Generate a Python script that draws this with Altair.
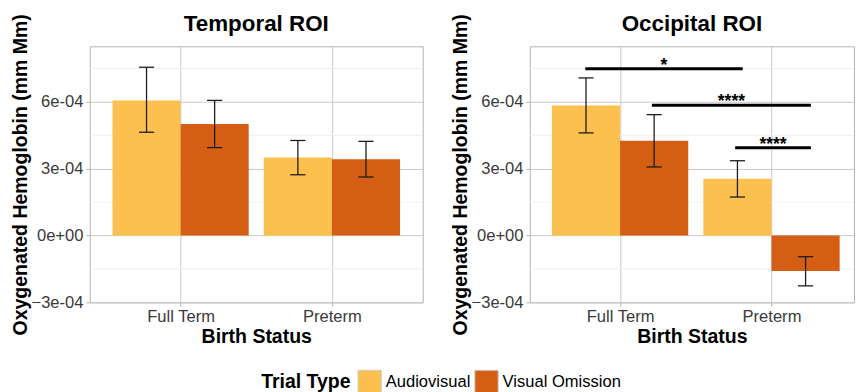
import json
import altair as alt
import pandas as pd

# ---------------- data ----------------
categories = ["Full Term", "Preterm"]
trial_types = ["Audiovisual", "Visual Omission"]
bar_status = ["Full Term", "Full Term", "Preterm", "Preterm"]
bar_type = ["Audiovisual", "Visual Omission", "Audiovisual", "Visual Omission"]

temporal_mean = [6.07e-4, 5.01e-4, 3.50e-4, 3.43e-4]
temporal_low = [4.64e-4, 3.95e-4, 2.73e-4, 2.63e-4]
temporal_high = [7.56e-4, 6.07e-4, 4.27e-4, 4.23e-4]

occipital_mean = [5.84e-4, 4.26e-4, 2.55e-4, -1.59e-4]
occipital_low = [4.61e-4, 3.08e-4, 1.73e-4, -2.26e-4]
occipital_high = [7.08e-4, 5.43e-4, 3.36e-4, -0.95e-4]

sig_xmin = [0.77, 1.21, 1.76]
sig_xmax = [1.81, 2.26, 2.26]
sig_y = [7.49e-4, 5.85e-4, 3.94e-4]
sig_label = ["*", "****", "****"]

y_major = [-3e-4, 0.0, 3e-4, 6e-4]
y_minor = [-1.5e-4, 1.5e-4, 4.5e-4, 7.5e-4]
y_domain = [-3e-4, 8.5e-4]

# ---------------- style ----------------
FONT = "Liberation Sans"
COLORS = ["#FBC04E", "#D45E13"]
DODGE = 0.9
CAP = 0.05
GRID = "#c9c9c9"
MINOR = "#efefef"
BORDER = "#b3b3b3"
TEXT = "#3a3a3a"


def bar_frame(means, lows, highs):
    rows = []
    for s, t, m, lo, hi in zip(bar_status, bar_type, means, lows, highs):
        pos = categories.index(s) + 1 + (trial_types.index(t) - 0.5) * DODGE / 2
        rows.append(dict(status=s, type=t, mean=m, low=lo, high=hi, pos=pos,
                         x0=pos - DODGE / 4, x1=pos + DODGE / 4,
                         c0=pos - CAP, c1=pos + CAP))
    return pd.DataFrame(rows)


x_label_expr = json.dumps(categories) + "[datum.value - 1]"
y_label_expr = "replace(replace(format(datum.value, '.0e'), 'e-', 'e-0'), 'e+', 'e+0')"


def panel(title, means, lows, highs, x_domain, width, sig=False):
    df = bar_frame(means, lows, highs)
    xs = alt.Scale(domain=x_domain, nice=False, zero=False)
    ys = alt.Scale(domain=y_domain, nice=False, zero=False)
    xaxis = alt.Axis(values=[1, 2], labelExpr=x_label_expr, title="Birth Status",
                     grid=True)
    yaxis = alt.Axis(values=y_major, labelExpr=y_label_expr,
                     title="Oxygenated Hemoglobin (mm Mm)", grid=True)

    def X(f):
        return alt.X(f, type="quantitative", scale=xs, axis=xaxis)

    def Y(f):
        return alt.Y(f, type="quantitative", scale=ys, axis=yaxis)

    minor = alt.Chart(pd.DataFrame({"v": y_minor})).mark_rule(
        color=MINOR, strokeWidth=1).encode(y=Y("v"))

    bars = alt.Chart(df).mark_bar().encode(
        x=X("x0"), x2="x1", y=Y("mean"), y2=alt.datum(0),
        color=alt.Color("type:N", scale=alt.Scale(domain=trial_types, range=COLORS),
                        legend=alt.Legend(title="Trial Type")),
    )
    err = alt.Chart(df).mark_rule(color="#1a1a1a", strokeWidth=1.3).encode(
        x=X("pos"), y=Y("low"), y2="high")
    cap_lo = alt.Chart(df).mark_rule(color="#1a1a1a", strokeWidth=1.3).encode(
        x=X("c0"), x2="c1", y=Y("low"))
    cap_hi = alt.Chart(df).mark_rule(color="#1a1a1a", strokeWidth=1.3).encode(
        x=X("c0"), x2="c1", y=Y("high"))
    layers = [minor, bars, err, cap_lo, cap_hi]
    if sig:
        sdf = pd.DataFrame({"xmin": sig_xmin, "xmax": sig_xmax, "y": sig_y,
                            "label": sig_label})
        sdf["mid"] = (sdf["xmin"] + sdf["xmax"]) / 2
        lines = alt.Chart(sdf).mark_rule(color="black", strokeWidth=3).encode(
            x=X("xmin"), x2="xmax", y=Y("y"))
        labels = alt.Chart(sdf).mark_text(
            baseline="alphabetic", dy=2, fontSize=18, font=FONT, color="black",
            fontWeight="bold").encode(x=X("mid"), y=Y("y"), text="label:N")
        layers += [lines, labels]
    return alt.layer(*layers).properties(
        width=width, height=263,
        title=alt.TitleParams(title, fontSize=23, fontWeight="bold", font=FONT,
                              anchor="middle", color="black", offset=-41,
                              frame="group", baseline="alphabetic"),
    )


left = panel("Temporal ROI", temporal_mean, temporal_low, temporal_high,
             [0.4, 2.6], 342)
right = panel("Occipital ROI", occipital_mean, occipital_low, occipital_high,
              [0.404, 2.545], 333, sig=True)

chart = alt.hconcat(left, right, spacing=27).properties(
    padding={"left": 2, "top": -1, "right": 0, "bottom": 0}
).configure_view(
    stroke=BORDER, strokeWidth=1
).configure_axis(
    domain=False, gridColor=GRID, gridWidth=1, tickColor=BORDER, tickSize=4,
    labelFont=FONT, labelFontSize=17, labelColor=TEXT, labelPadding=3,
    titleFont=FONT, titleFontSize=20, titleFontWeight="bold", titleColor="black",
    titlePadding=1,
).configure_axisY(
    labelFlush=False,
).configure_axisX(
    labelFlush=False, titlePadding=2,
).configure_legend(
    orient="none", legendX=176, legendY=332, direction="horizontal",
    titleOrient="left", titleFont=FONT, titleFontSize=20, titleFontWeight="bold",
    titleColor="black", labelFont=FONT, labelFontSize=17, labelColor="black",
    symbolType="square", symbolSize=576, symbolStrokeColor="#d0d0d0",
    symbolStrokeWidth=1, symbolOpacity=1, columnPadding=2, labelOffset=4,
    titlePadding=7, titleBaseline="middle",
)

chart.save("out.html", embed_options={"renderer": "svg", "actions": False})
